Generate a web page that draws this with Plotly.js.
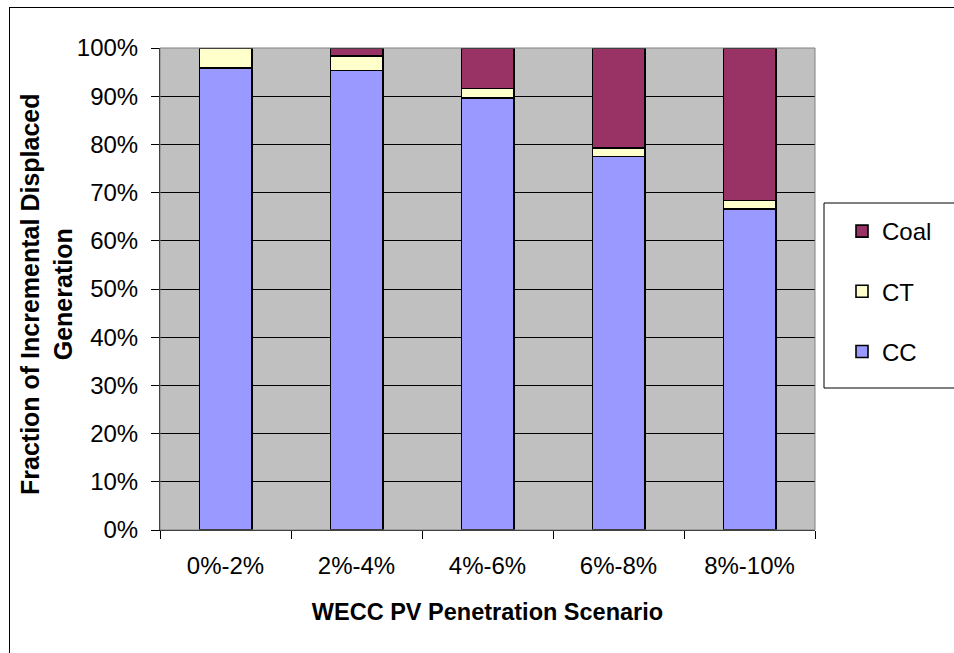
<!DOCTYPE html>
<html>
<head>
<meta charset="utf-8">
<script src="https://cdn.plot.ly/plotly-3.0.1.min.js"></script>
<style>
html,body{margin:0;padding:0;background:#fff;overflow:hidden;}
#chart{width:954px;height:653px;position:relative;}
#frame{position:absolute;left:9px;top:7px;width:1000px;height:700px;border:1px solid #000;pointer-events:none;}
</style>
</head>
<body>
<div id="chart"></div>
<div id="frame"></div>
<script>
const categories = ['0%-2%', '2%-4%', '4%-6%', '6%-8%', '8%-10%'];
const ccValues   = [95.8, 95.3, 89.6, 77.5, 66.6];
const ctValues   = [4.2, 3.0, 2.0, 1.7, 1.8];
const coalValues = [0.0, 1.7, 8.4, 20.8, 31.6];
const yTickVals  = [0, 10, 20, 30, 40, 50, 60, 70, 80, 90, 100];
const yTickText  = ['0%', '10%', '20%', '30%', '40%', '50%', '60%', '70%', '80%', '90%', '100%'];
const xTitle = 'WECC PV Penetration Scenario';
const yTitle = 'Fraction of Incremental Displaced<br>Generation';

const fam = 'Arial, "Liberation Sans", sans-serif';
const line = {color: '#000', width: 1.6};

const traces = [
  {type: 'bar', name: 'CC', x: categories, y: ccValues, width: 0.4, legendgroup: 'cc', legendrank: 3,
   marker: {color: '#9999FF', line: line}},
  {type: 'bar', name: 'CT', x: categories, y: ctValues, width: 0.4, legendgroup: 'ct', legendrank: 2,
   marker: {color: '#FFFFCC', line: line}},
  {type: 'bar', name: 'Coal', x: categories, y: coalValues, width: 0.4, legendgroup: 'coal', legendrank: 1,
   marker: {color: '#993366', line: line}}
];

const layout = {
  width: 954, height: 653,
  margin: {l: 160, r: 139, t: 48, b: 123},
  paper_bgcolor: '#fff',
  plot_bgcolor: '#C0C0C0',
  barmode: 'stack',
  font: {family: fam, size: 24, color: '#000'},
  showlegend: true,
  legend: {
    x: 842/954, xref: 'container', xanchor: 'left',
    y: 1 - 209/653, yref: 'container', yanchor: 'top',
    bgcolor: 'rgba(0,0,0,0)', borderwidth: 0,
    font: {family: fam, size: 24, color: '#000'},
    traceorder: 'grouped',
    tracegroupgap: 26
  },
  xaxis: {
    type: 'category',
    tickson: 'boundaries',
    ticks: 'outside', ticklen: 8, tickcolor: '#000', tickwidth: 1,
    ticklabelstandoff: 14,
    showgrid: false,
    showline: true, linecolor: '#000', linewidth: 1,
    tickfont: {family: fam, size: 24, color: '#000'},
    title: {text: '<b>' + xTitle + '</b>', font: {family: fam, size: 23.5, color: '#000'}, standoff: 25},
    fixedrange: true
  },
  yaxis: {
    range: [0, 100],
    tickvals: yTickVals, ticktext: yTickText,
    ticks: 'outside', ticklen: 8, tickcolor: '#000', tickwidth: 1,
    ticklabelstandoff: 8,
    showgrid: true, gridcolor: '#000', gridwidth: 1,
    showline: true, linecolor: '#000', linewidth: 1,
    zeroline: false,
    tickfont: {family: fam, size: 24, color: '#000'},
    fixedrange: true
  },
  annotations: [
    {text: '<b>' + yTitle + '</b>', textangle: -90, showarrow: false,
     xref: 'paper', yref: 'paper', x: (46 - 160) / 655, y: (530 - 294) / 482,
     xanchor: 'center', yanchor: 'middle',
     font: {family: fam, size: 25, color: '#000'}}
  ],
  shapes: [
    {type: 'rect', xref: 'paper', yref: 'paper', x0: 0, x1: 1, y0: 0, y1: 1,
     line: {color: '#808080', width: 1}, fillcolor: 'rgba(0,0,0,0)', layer: 'above'},
    {type: 'rect', xref: 'paper', yref: 'paper',
     x0: (824 - 160) / 655, x1: (1000 - 160) / 655,
     y0: (530 - 388) / 482, y1: (530 - 203) / 482,
     line: {color: '#000', width: 1}, fillcolor: '#fff', layer: 'above'}
  ]
};

Plotly.newPlot('chart', traces, layout, {displayModeBar: false, staticPlot: true});
</script>
</body>
</html>
